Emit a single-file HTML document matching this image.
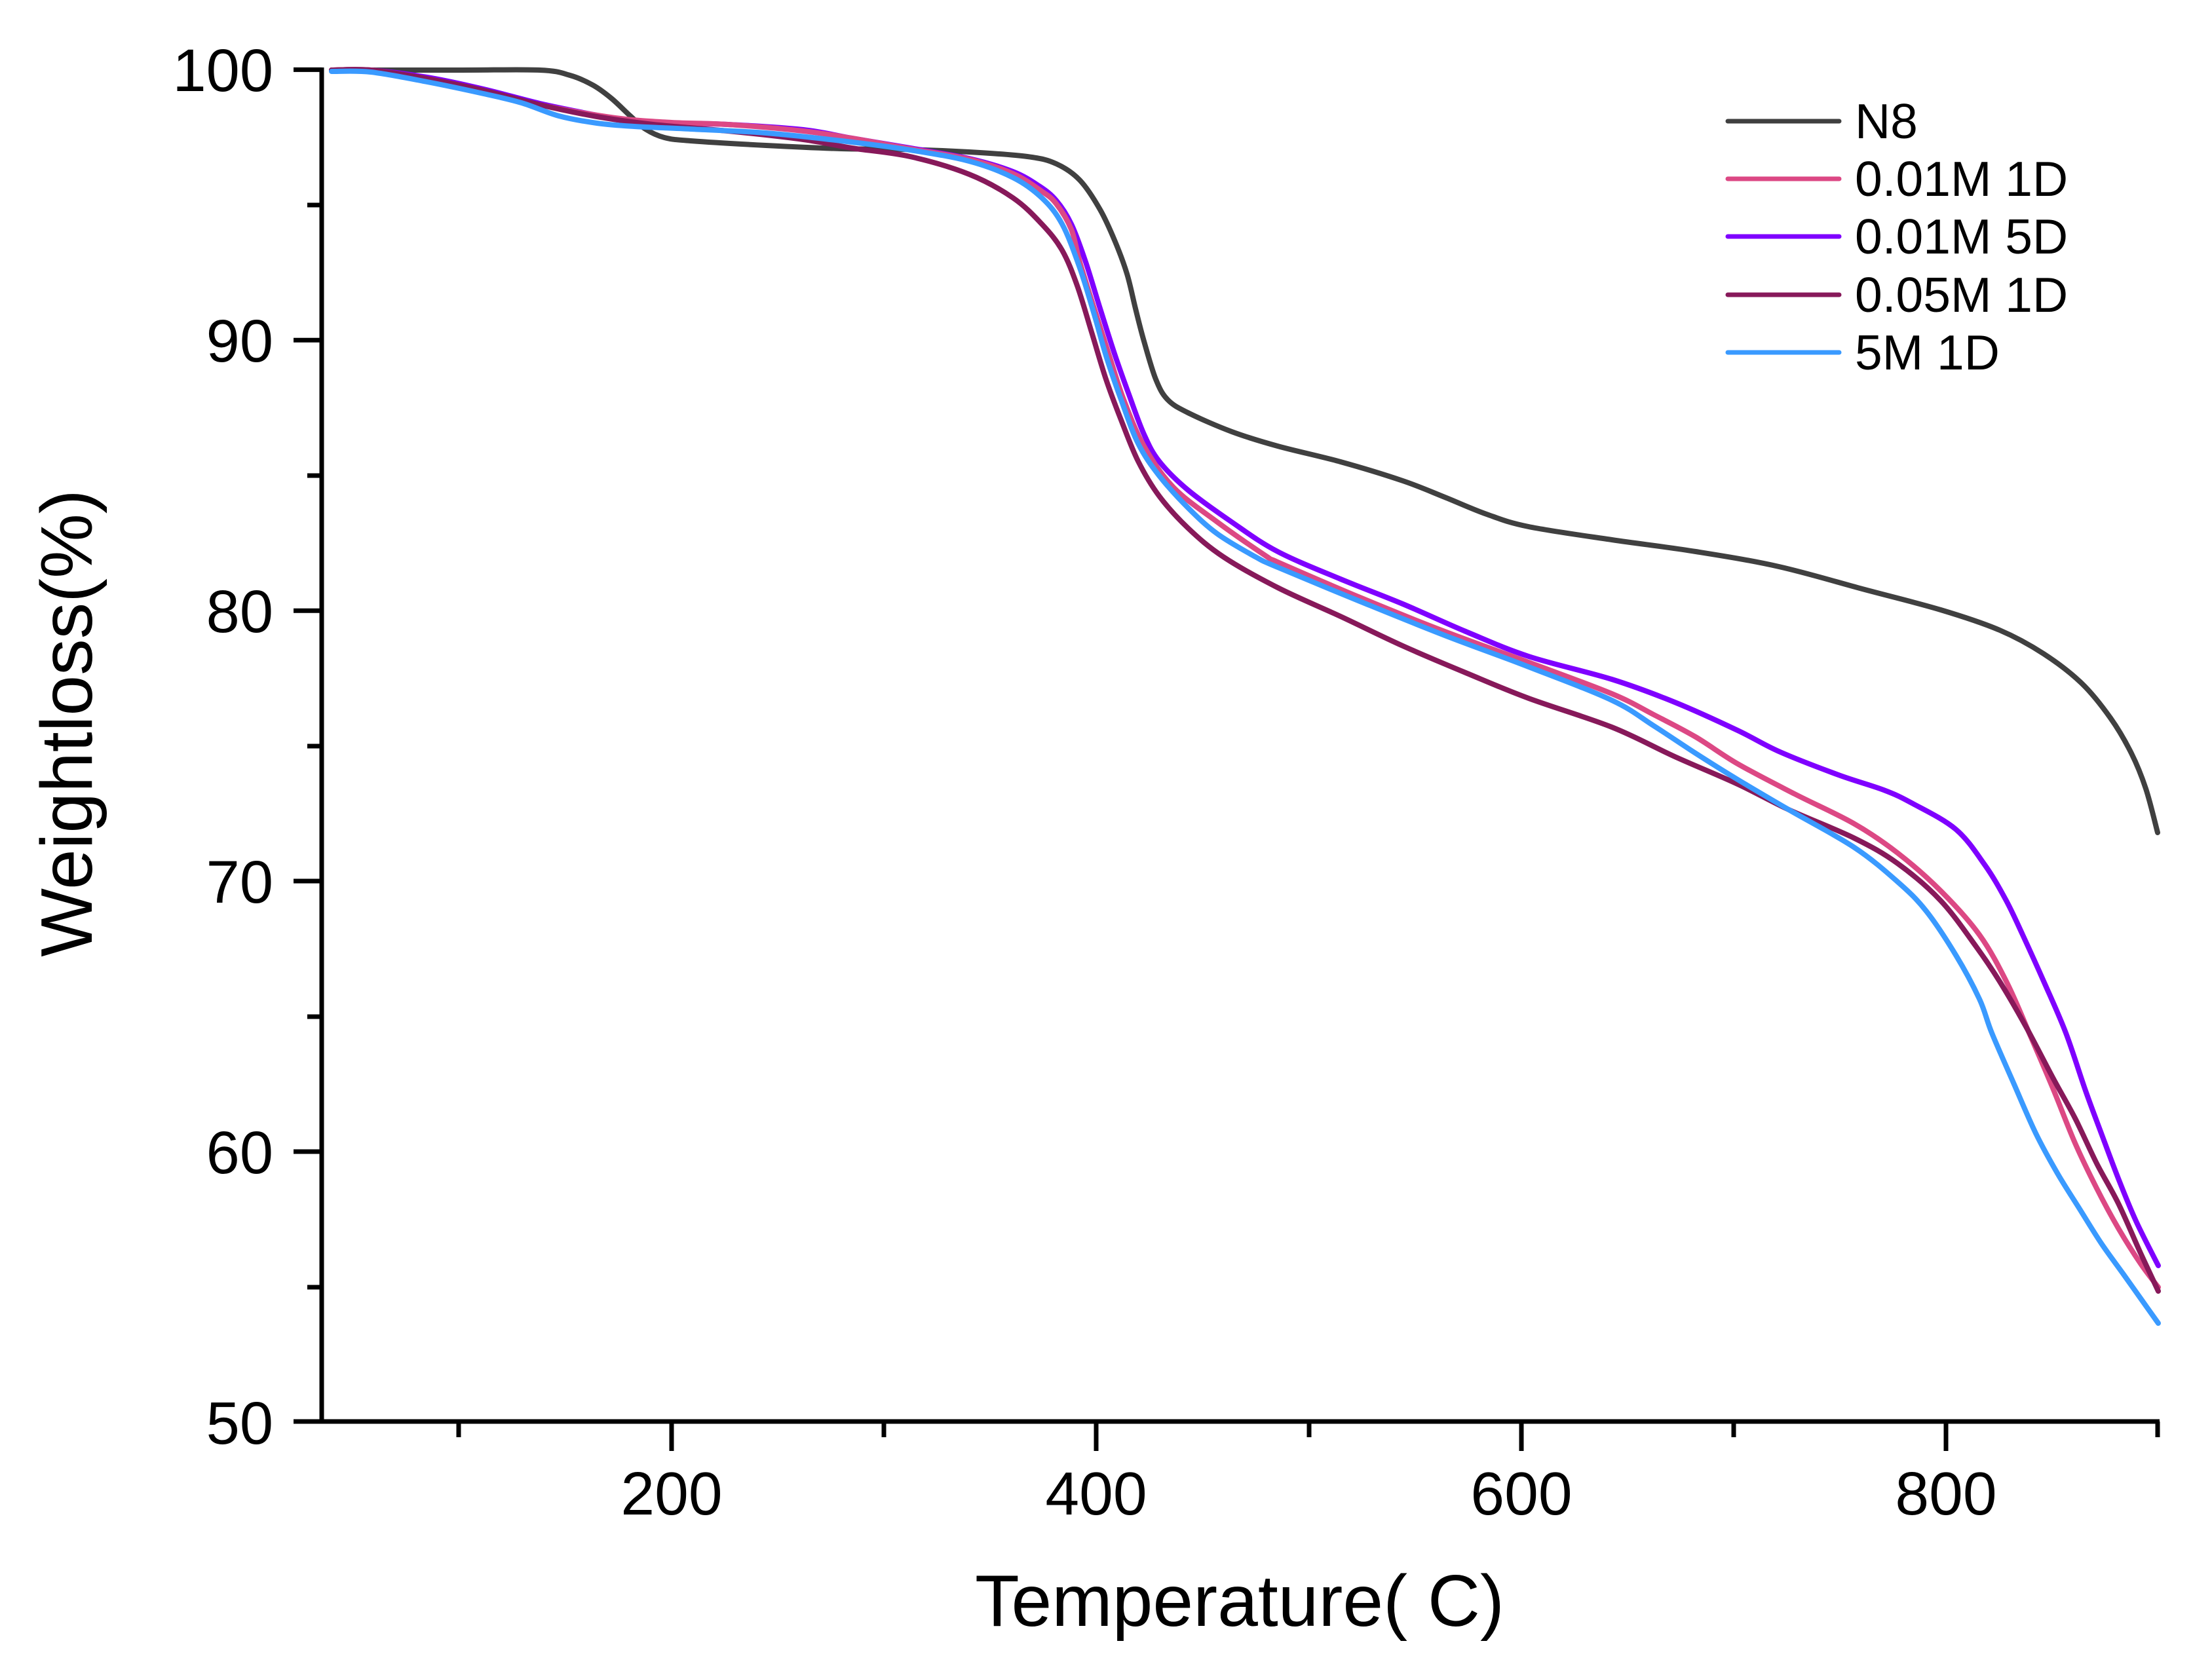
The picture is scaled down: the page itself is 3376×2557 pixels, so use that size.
<!DOCTYPE html>
<html>
<head>
<meta charset="utf-8">
<style>
html,body{margin:0;padding:0;background:#fff;}
svg{display:block;}
text{font-family:"Liberation Sans",Arial,sans-serif;fill:#000;}
</style>
</head>
<body>
<svg id="chart" width="3376" height="2557" viewBox="0 0 3376 2557" xmlns="http://www.w3.org/2000/svg">
<rect width="3376" height="2557" fill="#fff"/>

<!-- curves -->
<g id="curves" fill="none" stroke-width="8" stroke-linejoin="round" stroke-linecap="round">
<!-- N8 -->
<polyline stroke="#404040" points="506,107 700,107 824,107 870,115 905,130 933,150 962,177 985,197 1014,210 1054,215 1169,222 1284,227 1380,228 1479,232 1568,239 1612,250 1648,275 1679,320 1702,369 1720,418 1733,471 1746,521 1764,579 1782,610 1813,630 1880,659 1950,681 2046,705 2141,734 2205,759 2269,785 2333,804 2460,824 2588,842 2715,865 2846,900 2962,931 3052,962 3119,998 3177,1043 3221,1096 3253,1150 3275,1204 3293,1271"/>
<!-- 0.01M 5D -->
<polyline stroke="#7f00ff" points="506,107 566,107 652,118 738,136 824,158 911,176 960,185 1025,188 1111,190 1226,198 1300,211 1389,226 1479,242 1546,262 1586,284 1612,306 1635,342 1657,400 1679,471 1702,543 1724,605 1746,663 1769,704 1813,748 1880,797 1950,842 2046,884 2141,922 2237,964 2333,1002 2460,1037 2556,1072 2652,1115 2717,1148 2806,1183 2875,1206 2918,1226 2985,1266 3029,1320 3061,1373 3087,1427 3120,1500 3153,1577 3183,1665 3207,1730 3233,1799 3260,1864 3294,1932"/>
<!-- 0.01M 1D -->
<polyline stroke="#dc4884" points="506,107 566,107 652,120 738,138 824,160 939,180 1025,187 1111,190 1226,200 1300,211 1389,227 1479,243 1546,265 1590,292 1612,311 1635,350 1648,400 1670,471 1693,543 1715,610 1746,681 1791,744 1858,797 1934,850 1950,858 2078,913 2205,964 2333,1011 2460,1059 2524,1091 2588,1125 2652,1166 2739,1212 2829,1257 2896,1302 2962,1360 3021,1427 3063,1500 3100,1584 3133,1661 3167,1745 3200,1814 3233,1875 3267,1929 3294,1965"/>
<!-- 0.05M 1D -->
<polyline stroke="#87195a" points="506,107 566,107 652,120 738,138 824,160 911,178 997,190 1111,200 1226,213 1300,226 1389,239 1479,266 1546,302 1590,342 1621,382 1644,436 1666,507 1688,579 1711,641 1737,704 1769,757 1813,806 1867,850 1950,897 2046,941 2141,986 2237,1027 2333,1066 2460,1110 2556,1155 2652,1197 2730,1236 2829,1279 2896,1318 2962,1375 3016,1445 3053,1500 3093,1569 3133,1645 3167,1707 3200,1776 3233,1837 3267,1913 3294,1971"/>
<!-- 5M 1D -->
<polyline stroke="#3a9aff" points="506,109 566,110 652,125 738,143 796,157 853,177 911,188 968,193 1054,197 1169,203 1284,215 1389,229 1479,246 1546,271 1590,302 1621,342 1648,409 1670,480 1688,543 1711,610 1737,677 1769,726 1813,775 1858,815 1916,850 1950,866 2078,919 2205,970 2333,1018 2460,1069 2524,1108 2588,1150 2652,1190 2730,1236 2829,1293 2896,1346 2940,1391 2985,1458 3021,1525 3040,1577 3073,1653 3107,1730 3140,1791 3173,1844 3207,1898 3240,1944 3267,1982 3294,2020"/>
</g>

<!-- axes -->
<g stroke="#000" stroke-width="7" fill="none" stroke-linecap="butt">
<line x1="491" y1="103" x2="491" y2="2173"/>
<line x1="448" y1="2170" x2="3296" y2="2170"/>
<!-- y major ticks -->
<line x1="448" y1="106.4" x2="491" y2="106.4"/>
<line x1="448" y1="519.3" x2="491" y2="519.3"/>
<line x1="448" y1="932.2" x2="491" y2="932.2"/>
<line x1="448" y1="1345" x2="491" y2="1345"/>
<line x1="448" y1="1758" x2="491" y2="1758"/>
<!-- y minor ticks -->
<line x1="469" y1="313" x2="491" y2="313"/>
<line x1="469" y1="726" x2="491" y2="726"/>
<line x1="469" y1="1139" x2="491" y2="1139"/>
<line x1="469" y1="1552" x2="491" y2="1552"/>
<line x1="469" y1="1965" x2="491" y2="1965"/>
<!-- x major ticks -->
<line x1="1025" y1="2170" x2="1025" y2="2215"/>
<line x1="1673" y1="2170" x2="1673" y2="2215"/>
<line x1="2322" y1="2170" x2="2322" y2="2215"/>
<line x1="2970" y1="2170" x2="2970" y2="2215"/>
<!-- x minor ticks -->
<line x1="700" y1="2170" x2="700" y2="2194"/>
<line x1="1349" y1="2170" x2="1349" y2="2194"/>
<line x1="1998" y1="2170" x2="1998" y2="2194"/>
<line x1="2646" y1="2170" x2="2646" y2="2194"/>
<line x1="3293" y1="2170" x2="3293" y2="2194"/>
</g>

<!-- y tick labels -->
<g font-size="92" text-anchor="end">
<text x="417" y="139">100</text>
<text x="417" y="552">90</text>
<text x="417" y="965">80</text>
<text x="417" y="1378">70</text>
<text x="417" y="1791">60</text>
<text x="417" y="2204">50</text>
</g>

<!-- x tick labels -->
<g font-size="93" text-anchor="middle">
<text x="1025" y="2312">200</text>
<text x="1673" y="2312">400</text>
<text x="2322" y="2312">600</text>
<text x="2970" y="2312">800</text>
</g>

<!-- axis titles -->
<text x="1892" y="2482" font-size="111" text-anchor="middle">Temperature( C)</text>
<text transform="translate(140,1104) rotate(-90)" font-size="111" text-anchor="middle">Weightloss(%)</text>

<!-- legend -->
<g stroke-width="7" stroke-linecap="round">
<line x1="2637" y1="185" x2="2807" y2="185" stroke="#404040"/>
<line x1="2637" y1="273" x2="2807" y2="273" stroke="#dc4884"/>
<line x1="2637" y1="361" x2="2807" y2="361" stroke="#7f00ff"/>
<line x1="2637" y1="450" x2="2807" y2="450" stroke="#87195a"/>
<line x1="2637" y1="538" x2="2807" y2="538" stroke="#3a9aff"/>
</g>
<g font-size="75">
<text x="2831" y="211">N8</text>
<text x="2831" y="299">0.01M 1D</text>
<text x="2831" y="387">0.01M 5D</text>
<text x="2831" y="476">0.05M 1D</text>
<text x="2831" y="564">5M 1D</text>
</g>
</svg>
<script>
(function(){
  var ns="http://www.w3.org/2000/svg";
  var g=document.getElementById("curves");
  var pls=g.querySelectorAll("polyline");
  for(var k=0;k<pls.length;k++){
    var pl=pls[k];
    var raw=pl.getAttribute("points").trim().split(/\s+/);
    var p=raw.map(function(s){var a=s.split(",");return [parseFloat(a[0]),parseFloat(a[1])];});
    var d="M"+p[0][0]+","+p[0][1];
    for(var i=0;i<p.length-1;i++){
      var p0=p[i>0?i-1:i],p1=p[i],p2=p[i+1],p3=p[i+2<p.length?i+2:i+1];
      var t=1/6;
      var c1x=p1[0]+(p2[0]-p0[0])*t,c1y=p1[1]+(p2[1]-p0[1])*t;
      var c2x=p2[0]-(p3[0]-p1[0])*t,c2y=p2[1]-(p3[1]-p1[1])*t;
      d+=" C"+c1x.toFixed(1)+","+c1y.toFixed(1)+" "+c2x.toFixed(1)+","+c2y.toFixed(1)+" "+p2[0]+","+p2[1];
    }
    var path=document.createElementNS(ns,"path");
    path.setAttribute("d",d);
    path.setAttribute("stroke",pl.getAttribute("stroke"));
    g.replaceChild(path,pl);
  }
})();
</script>
</body>
</html>
